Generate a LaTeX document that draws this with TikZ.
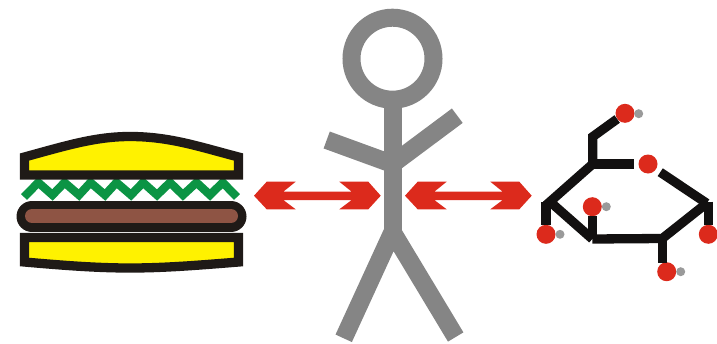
\documentclass[tikz,border=0pt]{standalone}
\usepackage{xcolor}
\usepackage{tikz}
\definecolor{bunyellow}{HTML}{FFF200}
\definecolor{crust}{HTML}{1F1A17}
\definecolor{lettuce}{HTML}{0B9444}
\definecolor{patty}{HTML}{8E5444}
\definecolor{figgray}{HTML}{858585}
\definecolor{hydrogen}{HTML}{9A9A9A}
\definecolor{oxred}{HTML}{DC2A1C}
\definecolor{bondblack}{HTML}{121010}
\tikzset{
  bun/.style={draw=crust, fill=bunyellow, line width=9.3pt, miter limit=10},
  limb/.style={draw=figgray, line width=18pt},
  bond/.style={draw=bondblack, line width=9.3pt},
  oxatom/.style={circle, fill=oxred, minimum size=19pt, inner sep=0pt},
  hatom/.style={circle, fill=hydrogen, minimum size=9pt, inner sep=0pt},
  redarrow/.style={fill=oxred, draw=none}
}

\begin{document}
\begin{tikzpicture}[x=1pt,y=-1pt]
  \useasboundingbox (0,0) rectangle (717,343);
  % sandwich
  \draw[draw=lettuce, line width=8.3pt, miter limit=10]
    (24,197) -- (38.3,182.5) -- (52.5,195) -- (64.5,182.5) -- (79,195) -- (90.5,182.5)
    -- (105,195) -- (116.5,182.5) -- (131,195) -- (143,182.5) -- (157,195)
    -- (170,182.5) -- (183,195) -- (196.5,182.5) -- (210,195) -- (222.7,182.5) -- (237,197);
  \draw[bun] (24.5,157) .. controls (65,146) and (95,136.5) .. (130,136.5)
    .. controls (170,136.5) and (200,147) .. (238.5,157) -- (238.5,175) -- (24.5,175) -- cycle;
  \draw[crust, line width=31pt, line cap=round] (32,216.5) -- (231,216.5);
  \draw[patty, line width=14pt, line cap=round] (32,216) -- (231,216);
  \draw[bun] (24.5,237.5) -- (238.5,237.5) -- (238.5,262)
    .. controls (190,266) and (160,268) .. (130,268)
    .. controls (100,268) and (70,266) .. (24.5,262) -- cycle;
  % person
  \node[circle, draw=figgray, line width=18pt, minimum size=82pt, inner sep=0pt] (head) at (392.5,58.7) {};
  \coordinate (neck) at (392.5,100);
  \coordinate (hip) at (392.5,232);
  \coordinate (shoulder) at (392.5,164);
  \draw[limb] (neck) -- (hip);
  \draw[limb] (326.7,140) -- (shoulder) -- (457.3,115.7);
  \draw[limb] (343.7,338.3) -- (hip) -- (455.7,337);
  % arrows
  \foreach \dx in {0,151} {
    \fill[redarrow, xshift=\dx pt] (254,195.7) -- (266.7,181.7) -- (295.7,181.7) -- (283.3,191.7)
      -- (351.7,191.7) -- (339.3,181.7) -- (368.3,181.7) -- (380.7,195.7) -- (368.3,209.3)
      -- (339.3,209.3) -- (351.7,200) -- (283.3,200) -- (295.7,209.3) -- (266.7,209.3) -- cycle;
  }
  % molecule
  \node[oxatom] (otop) at (625,113.3) {};
  \node[hatom] (htop) at (638.7,113.7) {};
  \node[oxatom] (oring) at (648,164) {};
  \node[oxatom] (ocenter) at (592.3,206.7) {};
  \node[hatom] (hcenter) at (606.3,206.7) {};
  \node[oxatom] (oleft) at (546,234.3) {};
  \node[hatom] (hleft) at (560,234.3) {};
  \node[oxatom] (oright) at (708.3,234.3) {};
  \node[oxatom] (obottom) at (666.7,271.7) {};
  \node[hatom] (hbottom) at (680.7,271.7) {};
  \coordinate (cbranch) at (592.7,136.7);
  \coordinate (ctop) at (592.7,164);
  \coordinate (cleft) at (550,201.7);
  \coordinate (cright) at (706.7,203.3);
  \coordinate (cfront) at (592.3,239);
  \coordinate (cback) at (662.3,238.5);
  \draw[bond] (otop) -- (cbranch) -- (ctop);
  \draw[bond, shorten >=4.5pt] (ctop) -- (oring);
  \draw[bond, shorten >=5pt] (cright) -- (oring);
  \draw[bond] (ctop) -- (cleft) -- (cfront);
  \draw[bond] (cright) -- (cback) -- (cfront);
  \draw[bond] (ocenter) -- (cfront);
  \draw[bond] (546,201.7) -- (oleft);
  \draw[bond] (708.3,201.7) -- (oright);
  \draw[bond] (cback) -- (662.3,263);
\end{tikzpicture}
\end{document}
